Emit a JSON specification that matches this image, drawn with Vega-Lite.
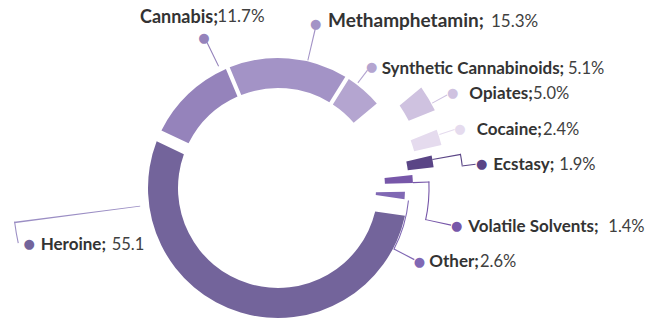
{
  "$schema": "https://vega.github.io/schema/vega-lite/v6.json",
  "width": 556,
  "height": 270,
  "autosize": {"type": "none"},
  "padding": {"left": 0, "top": 53, "right": 104, "bottom": 0},
  "background": "white",
  "config": {"view": {"stroke": null}},
  "data": {"values": [
    {"drug": "Heroine", "value": 55.1, "label": "Heroine;", "pct": "55.1"},
    {"drug": "Cannabis", "value": 11.7, "label": "Cannabis;", "pct": "11.7%"},
    {"drug": "Methamphetamin", "value": 15.3, "label": "Methamphetamin;", "pct": "15.3%"},
    {"drug": "Synthetic Cannabinoids", "value": 5.1, "label": "Synthetic Cannabinoids;", "pct": "5.1%"},
    {"drug": "Opiates", "value": 5.0, "label": "Opiates;", "pct": "5.0%"},
    {"drug": "Cocaine", "value": 2.4, "label": "Cocaine;", "pct": "2.4%"},
    {"drug": "Ecstasy", "value": 1.9, "label": "Ecstasy;", "pct": "1.9%"},
    {"drug": "Volatile Solvents", "value": 1.4, "label": "Volatile Solvents;", "pct": "1.4%"},
    {"drug": "Other", "value": 2.6, "label": "Other;", "pct": "2.6%"}
  ]},
  "transform": [{"stack": "value", "groupby": [], "as": ["t0", "t1"]}],
  "encoding": {
    "theta": {"field": "t0", "type": "quantitative", "stack": null, "scale": {"domain": [0, 100.5], "range": [1.71042, 7.99361]}},
    "color": {"field": "drug", "type": "nominal", "legend": null,
      "scale": {"domain": ["Heroine", "Cannabis", "Methamphetamin", "Synthetic Cannabinoids", "Opiates", "Cocaine", "Ecstasy", "Volatile Solvents", "Other"],
                "range": ["#73649b", "#9583bb", "#a393c6", "#b4a5d0", "#cfc2e0", "#e5dbee", "#5a4586", "#7757a9", "#8068b4"]}}
  },
  "layer": [
    {"transform": [{"filter": {"field": "drug", "equal": "Heroine"}}], "mark": {"type": "arc", "outerRadius": 130, "innerRadius": 100, "padAngle": 0.12}, "encoding": {"theta2": {"field": "t1"}}},
    {"transform": [{"filter": {"field": "drug", "oneOf": ["Cannabis", "Methamphetamin", "Synthetic Cannabinoids"]}}], "mark": {"type": "arc", "outerRadius": 130, "innerRadius": 100, "padAngle": 0.025}, "encoding": {"theta2": {"field": "t1"}}},
    {"transform": [{"filter": {"field": "drug", "equal": "Opiates"}}], "mark": {"type": "arc", "outerRadius": 175, "innerRadius": 147, "padAngle": 0.123}, "encoding": {"theta2": {"field": "t1"}}},
    {"transform": [{"filter": {"field": "drug", "equal": "Cocaine"}}], "mark": {"type": "arc", "outerRadius": 169, "innerRadius": 141, "padAngle": 0.043}, "encoding": {"theta2": {"field": "t1"}}},
    {"transform": [{"filter": {"field": "drug", "equal": "Ecstasy"}}], "mark": {"type": "arc", "outerRadius": 157, "innerRadius": 131, "padAngle": 0.033}, "encoding": {"theta2": {"field": "t1"}}},
    {"transform": [{"filter": {"field": "drug", "equal": "Volatile Solvents"}}], "mark": {"type": "arc", "outerRadius": 135, "innerRadius": 107, "padAngle": 0.021}, "encoding": {"theta2": {"field": "t1"}}},
    {"transform": [{"filter": {"field": "drug", "equal": "Other"}}], "mark": {"type": "arc", "outerRadius": 127, "innerRadius": 98, "padAngle": 0.082}, "encoding": {"theta2": {"field": "t1"}}},

    {"transform": [{"filter": {"field": "drug", "equal": "Cannabis"}}], "mark": {"type": "arc", "outerRadius": 163, "innerRadius": 135.5, "thetaOffset": 0.6705, "theta2Offset": 0.6779}, "encoding": {"theta2": {"field": "t0"}}},
    {"transform": [{"filter": {"field": "drug", "equal": "Methamphetamin"}}], "mark": {"type": "arc", "outerRadius": 164, "innerRadius": 131, "thetaOffset": 0.6226, "theta2Offset": 0.6301}, "encoding": {"theta2": {"field": "t0"}}},
    {"transform": [{"filter": {"field": "drug", "equal": "Synthetic Cannabinoids"}}], "mark": {"type": "arc", "outerRadius": 148, "innerRadius": 132, "thetaOffset": 0.0857, "theta2Offset": 0.0936}, "encoding": {"theta2": {"field": "t0"}}},
    {"transform": [{"filter": {"field": "drug", "equal": "Opiates"}}], "mark": {"type": "arc", "outerRadius": 193, "innerRadius": 176, "thetaOffset": 0.1857, "theta2Offset": 0.1916}, "encoding": {"theta2": {"field": "t0"}}},
    {"transform": [{"filter": {"field": "drug", "equal": "Cocaine"}}], "mark": {"type": "arc", "outerRadius": 186, "innerRadius": 170, "thetaOffset": 0.0564, "theta2Offset": 0.0626}, "encoding": {"theta2": {"field": "t0"}}},
    {"transform": [{"filter": {"field": "drug", "equal": "Ecstasy"}}], "mark": {"type": "arc", "outerRadius": 186, "innerRadius": 157, "thetaOffset": 0.0442, "theta2Offset": 0.0506}, "encoding": {"theta2": {"field": "t0"}}},
    {"transform": [{"filter": {"field": "drug", "equal": "Ecstasy"}}], "mark": {"type": "arc", "outerRadius": 186.1, "innerRadius": 185, "thetaOffset": 0.0442, "theta2Offset": 0.1070}, "encoding": {"theta2": {"field": "t0"}}},
    {"transform": [{"filter": {"field": "drug", "equal": "Ecstasy"}}], "mark": {"type": "arc", "outerRadius": 199, "innerRadius": 185, "thetaOffset": 0.1070, "theta2Offset": 0.1127}, "encoding": {"theta2": {"field": "t0"}}},
    {"transform": [{"filter": {"field": "drug", "equal": "Volatile Solvents"}}], "mark": {"type": "arc", "outerRadius": 151.5, "innerRadius": 135, "thetaOffset": 0.0668, "theta2Offset": 0.0745}, "encoding": {"theta2": {"field": "t0"}}},
    {"transform": [{"filter": {"field": "drug", "equal": "Volatile Solvents"}}], "mark": {"type": "arc", "outerRadius": 151.6, "innerRadius": 150.5, "thetaOffset": 0.0668, "theta2Offset": 0.3248}, "encoding": {"theta2": {"field": "t0"}}},
    {"transform": [{"filter": {"field": "drug", "equal": "Volatile Solvents"}}], "mark": {"type": "arc", "outerRadius": 177, "innerRadius": 151, "thetaOffset": 0.3181, "theta2Offset": 0.3248}, "encoding": {"theta2": {"field": "t0"}}},
    {"transform": [{"filter": {"field": "drug", "equal": "Other"}}], "mark": {"type": "arc", "outerRadius": 131.6, "innerRadius": 130.5, "thetaOffset": 0.1189, "theta2Offset": 0.5106}, "encoding": {"theta2": {"field": "t0"}}},
    {"transform": [{"filter": {"field": "drug", "equal": "Other"}}], "mark": {"type": "arc", "outerRadius": 154, "innerRadius": 131, "thetaOffset": 0.5028, "theta2Offset": 0.5106}, "encoding": {"theta2": {"field": "t0"}}},
    {"transform": [{"filter": {"field": "drug", "equal": "Heroine"}}], "mark": {"type": "arc", "outerRadius": 266, "innerRadius": 139, "thetaOffset": 2.8693, "theta2Offset": 2.8747}, "encoding": {"theta2": {"field": "t0"}, "color": {"value": "#9b8ec4"}}},
    {"transform": [{"filter": {"field": "drug", "equal": "Heroine"}}], "mark": {"type": "arc", "outerRadius": 266.1, "innerRadius": 265, "thetaOffset": 2.7925, "theta2Offset": 2.8747}, "encoding": {"theta2": {"field": "t0"}, "color": {"value": "#9b8ec4"}}},

    {"transform": [{"filter": {"field": "drug", "equal": "Cannabis"}}], "mark": {"type": "text", "text": "●", "radius": 167.5, "thetaOffset": 0.6705, "align": "center", "baseline": "middle", "font": "DejaVu Sans", "fontSize": 13}},
    {"transform": [{"filter": {"field": "drug", "equal": "Methamphetamin"}}], "mark": {"type": "text", "text": "●", "radius": 168.3, "thetaOffset": 0.6226, "align": "center", "baseline": "middle", "font": "DejaVu Sans", "fontSize": 13}},
    {"transform": [{"filter": {"field": "drug", "equal": "Synthetic Cannabinoids"}}], "mark": {"type": "text", "text": "●", "radius": 152.8, "thetaOffset": 0.1000, "align": "center", "baseline": "middle", "font": "DejaVu Sans", "fontSize": 13}},
    {"transform": [{"filter": {"field": "drug", "equal": "Opiates"}}], "mark": {"type": "text", "text": "●", "radius": 198.7, "thetaOffset": 0.1951, "align": "center", "baseline": "middle", "font": "DejaVu Sans", "fontSize": 13}},
    {"transform": [{"filter": {"field": "drug", "equal": "Cocaine"}}], "mark": {"type": "text", "text": "●", "radius": 191.3, "thetaOffset": 0.0658, "align": "center", "baseline": "middle", "font": "DejaVu Sans", "fontSize": 13}},
    {"transform": [{"filter": {"field": "drug", "equal": "Ecstasy"}}], "mark": {"type": "text", "text": "●", "radius": 205.1, "thetaOffset": 0.1119, "align": "center", "baseline": "middle", "font": "DejaVu Sans", "fontSize": 13}},
    {"transform": [{"filter": {"field": "drug", "equal": "Volatile Solvents"}}], "mark": {"type": "text", "text": "●", "radius": 182.6, "thetaOffset": 0.3183, "align": "center", "baseline": "middle", "font": "DejaVu Sans", "fontSize": 13}},
    {"transform": [{"filter": {"field": "drug", "equal": "Other"}}], "mark": {"type": "text", "text": "●", "radius": 159.4, "thetaOffset": 0.5037, "align": "center", "baseline": "middle", "font": "DejaVu Sans", "fontSize": 13}},
    {"transform": [{"filter": {"field": "drug", "equal": "Heroine"}}], "mark": {"type": "text", "text": "●", "radius": 255.0, "thetaOffset": 2.7793, "align": "center", "baseline": "middle", "font": "DejaVu Sans", "fontSize": 13}},

    {"transform": [{"filter": {"field": "drug", "equal": "Cannabis"}}], "mark": {"type": "text", "radius": 215.5, "thetaOffset": 0.4328, "align": "left", "baseline": "alphabetic", "font": "Lato", "fontSize": 18, "fontWeight": "bold"}, "encoding": {"text": {"field": "label"}, "color": {"value": "#333333"}}},
    {"transform": [{"filter": {"field": "drug", "equal": "Methamphetamin"}}], "mark": {"type": "text", "radius": 168.6, "thetaOffset": 0.6976, "align": "left", "baseline": "alphabetic", "font": "Lato", "fontSize": 19, "fontWeight": "bold"}, "encoding": {"text": {"field": "label"}, "color": {"value": "#333333"}}},
    {"transform": [{"filter": {"field": "drug", "equal": "Synthetic Cannabinoids"}}], "mark": {"type": "text", "radius": 154.1, "thetaOffset": 0.1780, "align": "left", "baseline": "alphabetic", "font": "Lato", "fontSize": 17, "fontWeight": "bold"}, "encoding": {"text": {"field": "label"}, "color": {"value": "#333333"}}},
    {"transform": [{"filter": {"field": "drug", "equal": "Opiates"}}], "mark": {"type": "text", "radius": 210.9, "thetaOffset": 0.2578, "align": "left", "baseline": "alphabetic", "font": "Lato", "fontSize": 17, "fontWeight": "bold"}, "encoding": {"text": {"field": "label"}, "color": {"value": "#333333"}}},
    {"transform": [{"filter": {"field": "drug", "equal": "Cocaine"}}], "mark": {"type": "text", "radius": 205.6, "thetaOffset": 0.1187, "align": "left", "baseline": "alphabetic", "font": "Lato", "fontSize": 17, "fontWeight": "bold"}, "encoding": {"text": {"field": "label"}, "color": {"value": "#333333"}}},
    {"transform": [{"filter": {"field": "drug", "equal": "Ecstasy"}}], "mark": {"type": "text", "radius": 216.1, "thetaOffset": 0.1457, "align": "left", "baseline": "alphabetic", "font": "Lato", "fontSize": 17, "fontWeight": "bold"}, "encoding": {"text": {"field": "label"}, "color": {"value": "#333333"}}},
    {"transform": [{"filter": {"field": "drug", "equal": "Volatile Solvents"}}], "mark": {"type": "text", "radius": 195.3, "thetaOffset": 0.3361, "align": "left", "baseline": "alphabetic", "font": "Lato", "fontSize": 17, "fontWeight": "bold"}, "encoding": {"text": {"field": "label"}, "color": {"value": "#333333"}}},
    {"transform": [{"filter": {"field": "drug", "equal": "Other"}}], "mark": {"type": "text", "radius": 170.8, "thetaOffset": 0.5056, "align": "left", "baseline": "alphabetic", "font": "Lato", "fontSize": 17, "fontWeight": "bold"}, "encoding": {"text": {"field": "label"}, "color": {"value": "#333333"}}},
    {"transform": [{"filter": {"field": "drug", "equal": "Heroine"}}], "mark": {"type": "text", "radius": 245.3, "thetaOffset": 2.7465, "align": "left", "baseline": "alphabetic", "font": "Lato", "fontSize": 17, "fontWeight": "bold"}, "encoding": {"text": {"field": "label"}, "color": {"value": "#333333"}}},

    {"transform": [{"filter": {"field": "drug", "equal": "Cannabis"}}], "mark": {"type": "text", "radius": 176.3, "thetaOffset": 0.7765, "align": "left", "baseline": "alphabetic", "font": "Lato", "fontSize": 17}, "encoding": {"text": {"field": "pct"}, "color": {"value": "#404040"}}},
    {"transform": [{"filter": {"field": "drug", "equal": "Methamphetamin"}}], "mark": {"type": "text", "radius": 267.0, "thetaOffset": 1.3200, "align": "left", "baseline": "alphabetic", "font": "Lato", "fontSize": 17}, "encoding": {"text": {"field": "pct"}, "color": {"value": "#404040"}}},
    {"transform": [{"filter": {"field": "drug", "equal": "Synthetic Cannabinoids"}}], "mark": {"type": "text", "radius": 311.6, "thetaOffset": 0.6362, "align": "left", "baseline": "alphabetic", "font": "Lato", "fontSize": 16.5}, "encoding": {"text": {"field": "pct"}, "color": {"value": "#404040"}}},
    {"transform": [{"filter": {"field": "drug", "equal": "Opiates"}}], "mark": {"type": "text", "radius": 270.0, "thetaOffset": 0.3571, "align": "left", "baseline": "alphabetic", "font": "Lato", "fontSize": 16.5}, "encoding": {"text": {"field": "pct"}, "color": {"value": "#404040"}}},
    {"transform": [{"filter": {"field": "drug", "equal": "Cocaine"}}], "mark": {"type": "text", "radius": 270.2, "thetaOffset": 0.1819, "align": "left", "baseline": "alphabetic", "font": "Lato", "fontSize": 16.5}, "encoding": {"text": {"field": "pct"}, "color": {"value": "#404040"}}},
    {"transform": [{"filter": {"field": "drug", "equal": "Ecstasy"}}], "mark": {"type": "text", "radius": 281.9, "thetaOffset": 0.1653, "align": "left", "baseline": "alphabetic", "font": "Lato", "fontSize": 16.5}, "encoding": {"text": {"field": "pct"}, "color": {"value": "#404040"}}},
    {"transform": [{"filter": {"field": "drug", "equal": "Volatile Solvents"}}], "mark": {"type": "text", "radius": 333.2, "thetaOffset": 0.2421, "align": "left", "baseline": "alphabetic", "font": "Lato", "fontSize": 16.5}, "encoding": {"text": {"field": "pct"}, "color": {"value": "#404040"}}},
    {"transform": [{"filter": {"field": "drug", "equal": "Other"}}], "mark": {"type": "text", "radius": 217.0, "thetaOffset": 0.3969, "align": "left", "baseline": "alphabetic", "font": "Lato", "fontSize": 16.5}, "encoding": {"text": {"field": "pct"}, "color": {"value": "#404040"}}},
    {"transform": [{"filter": {"field": "drug", "equal": "Heroine"}}], "mark": {"type": "text", "radius": 177.5, "thetaOffset": 2.6450, "align": "left", "baseline": "alphabetic", "font": "Lato", "fontSize": 16.5}, "encoding": {"text": {"field": "pct"}, "color": {"value": "#404040"}}}
  ]
}
